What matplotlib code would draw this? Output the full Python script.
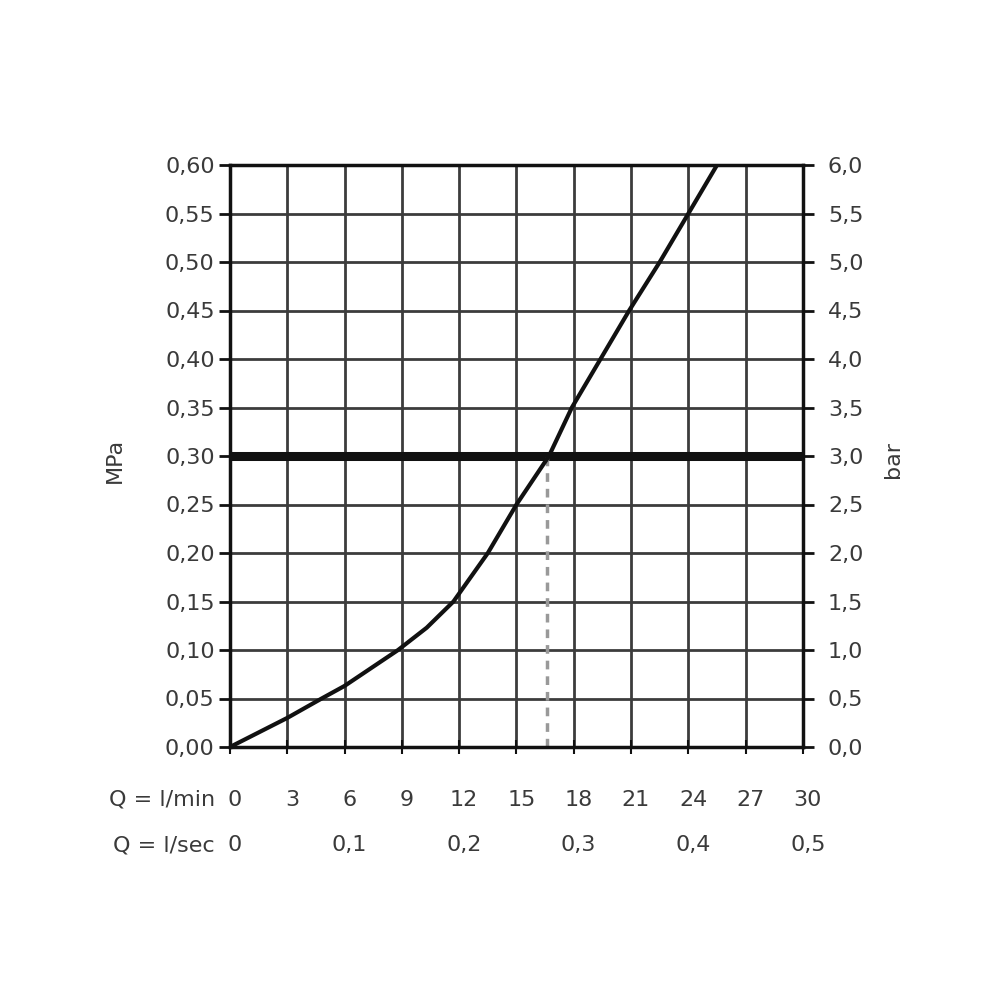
import matplotlib.pyplot as plt
from matplotlib.transforms import blended_transform_factory

# flow curve
flow_lmin = [0, 3, 4.8, 6, 8.8, 10.3, 11.7, 13.5, 15.0, 16.7, 17.9, 19.4, 20.9, 22.5, 24.0, 25.5]
pressure_mpa = [0, 0.030, 0.05, 0.063, 0.10, 0.123, 0.15, 0.20, 0.25, 0.30, 0.35, 0.40, 0.45, 0.50, 0.55, 0.60]

mpa_ticks = [0.00, 0.05, 0.10, 0.15, 0.20, 0.25, 0.30, 0.35, 0.40, 0.45, 0.50, 0.55, 0.60]
bar_ticks = [0.0, 0.5, 1.0, 1.5, 2.0, 2.5, 3.0, 3.5, 4.0, 4.5, 5.0, 5.5, 6.0]
lmin_ticks = [0, 3, 6, 9, 12, 15, 18, 21, 24, 27, 30]
lsec_labels = ["0", "0,1", "0,2", "0,3", "0,4", "0,5"]
lsec_pos = [0, 6, 12, 18, 24, 30]

ref_pressure = 0.30
ref_flow = 16.6

txt = "#3a3a3a"
grid_c = "#3c3c3c"
fs = 16

fig = plt.figure(figsize=(10, 10), dpi=100)
ax = fig.add_axes([0.230, 0.253, 0.573, 0.582])
ax.set_xlim(0, 30)
ax.set_ylim(0, 0.60)

# grid
for x in lmin_ticks[1:-1]:
    ax.axvline(x, color=grid_c, lw=2, zorder=1)
for y in mpa_ticks[1:-1]:
    if y != ref_pressure:
        ax.axhline(y, color=grid_c, lw=2, zorder=1)

ax.axhline(ref_pressure, color="#111111", lw=6.5, zorder=2)
ax.plot([ref_flow, ref_flow], [0, ref_pressure], color="#999999", lw=2.5,
        ls=(0, (2.5, 2)), zorder=2)
ax.plot(flow_lmin, pressure_mpa, color="#111111", lw=3, zorder=3)

for s in ax.spines.values():
    s.set_linewidth(2.5)
    s.set_color("#111111")

ax.set_yticks(mpa_ticks)
ax.set_yticklabels([f"{v:.2f}".replace(".", ",") for v in mpa_ticks])
ax.tick_params(axis="y", length=8, width=2, colors="#111111", labelcolor=txt,
               labelsize=fs, pad=3)
ax.set_xticks(lmin_ticks)
ax.set_xticklabels([])
ax.tick_params(axis="x", direction="inout", length=10, width=1.5, colors="#111111")

ax2 = ax.twinx()
ax2.set_ylim(0, 6)
ax2.set_yticks(bar_ticks)
ax2.set_yticklabels([f"{v:.1f}".replace(".", ",") for v in bar_ticks])
ax2.tick_params(axis="y", length=8, width=2, colors="#111111", labelcolor=txt,
                labelsize=fs, pad=10)
for s in ax2.spines.values():
    s.set_visible(False)

fig.text(0.115, 0.54, "MPa", rotation=90, ha="center", va="center", fontsize=fs, color=txt)
fig.text(0.893, 0.54, "bar", rotation=90, ha="center", va="center", fontsize=fs, color=txt)

# bottom rows
tr = blended_transform_factory(ax.transData, fig.transFigure)
fig.text(0.215, 0.200, "Q = l/min", ha="right", va="center", fontsize=fs, color=txt)
fig.text(0.215, 0.155, "Q = l/sec", ha="right", va="center", fontsize=fs, color=txt)
for x in lmin_ticks:
    ax.text(x + 0.25, 0.200, str(x), transform=tr, ha="center", va="center",
            fontsize=fs, color=txt)
for x, lab in zip(lsec_pos, lsec_labels):
    ax.text(x + 0.25, 0.155, lab, transform=tr, ha="center", va="center",
            fontsize=fs, color=txt)

fig.savefig("out.png", dpi=100, facecolor="white")
